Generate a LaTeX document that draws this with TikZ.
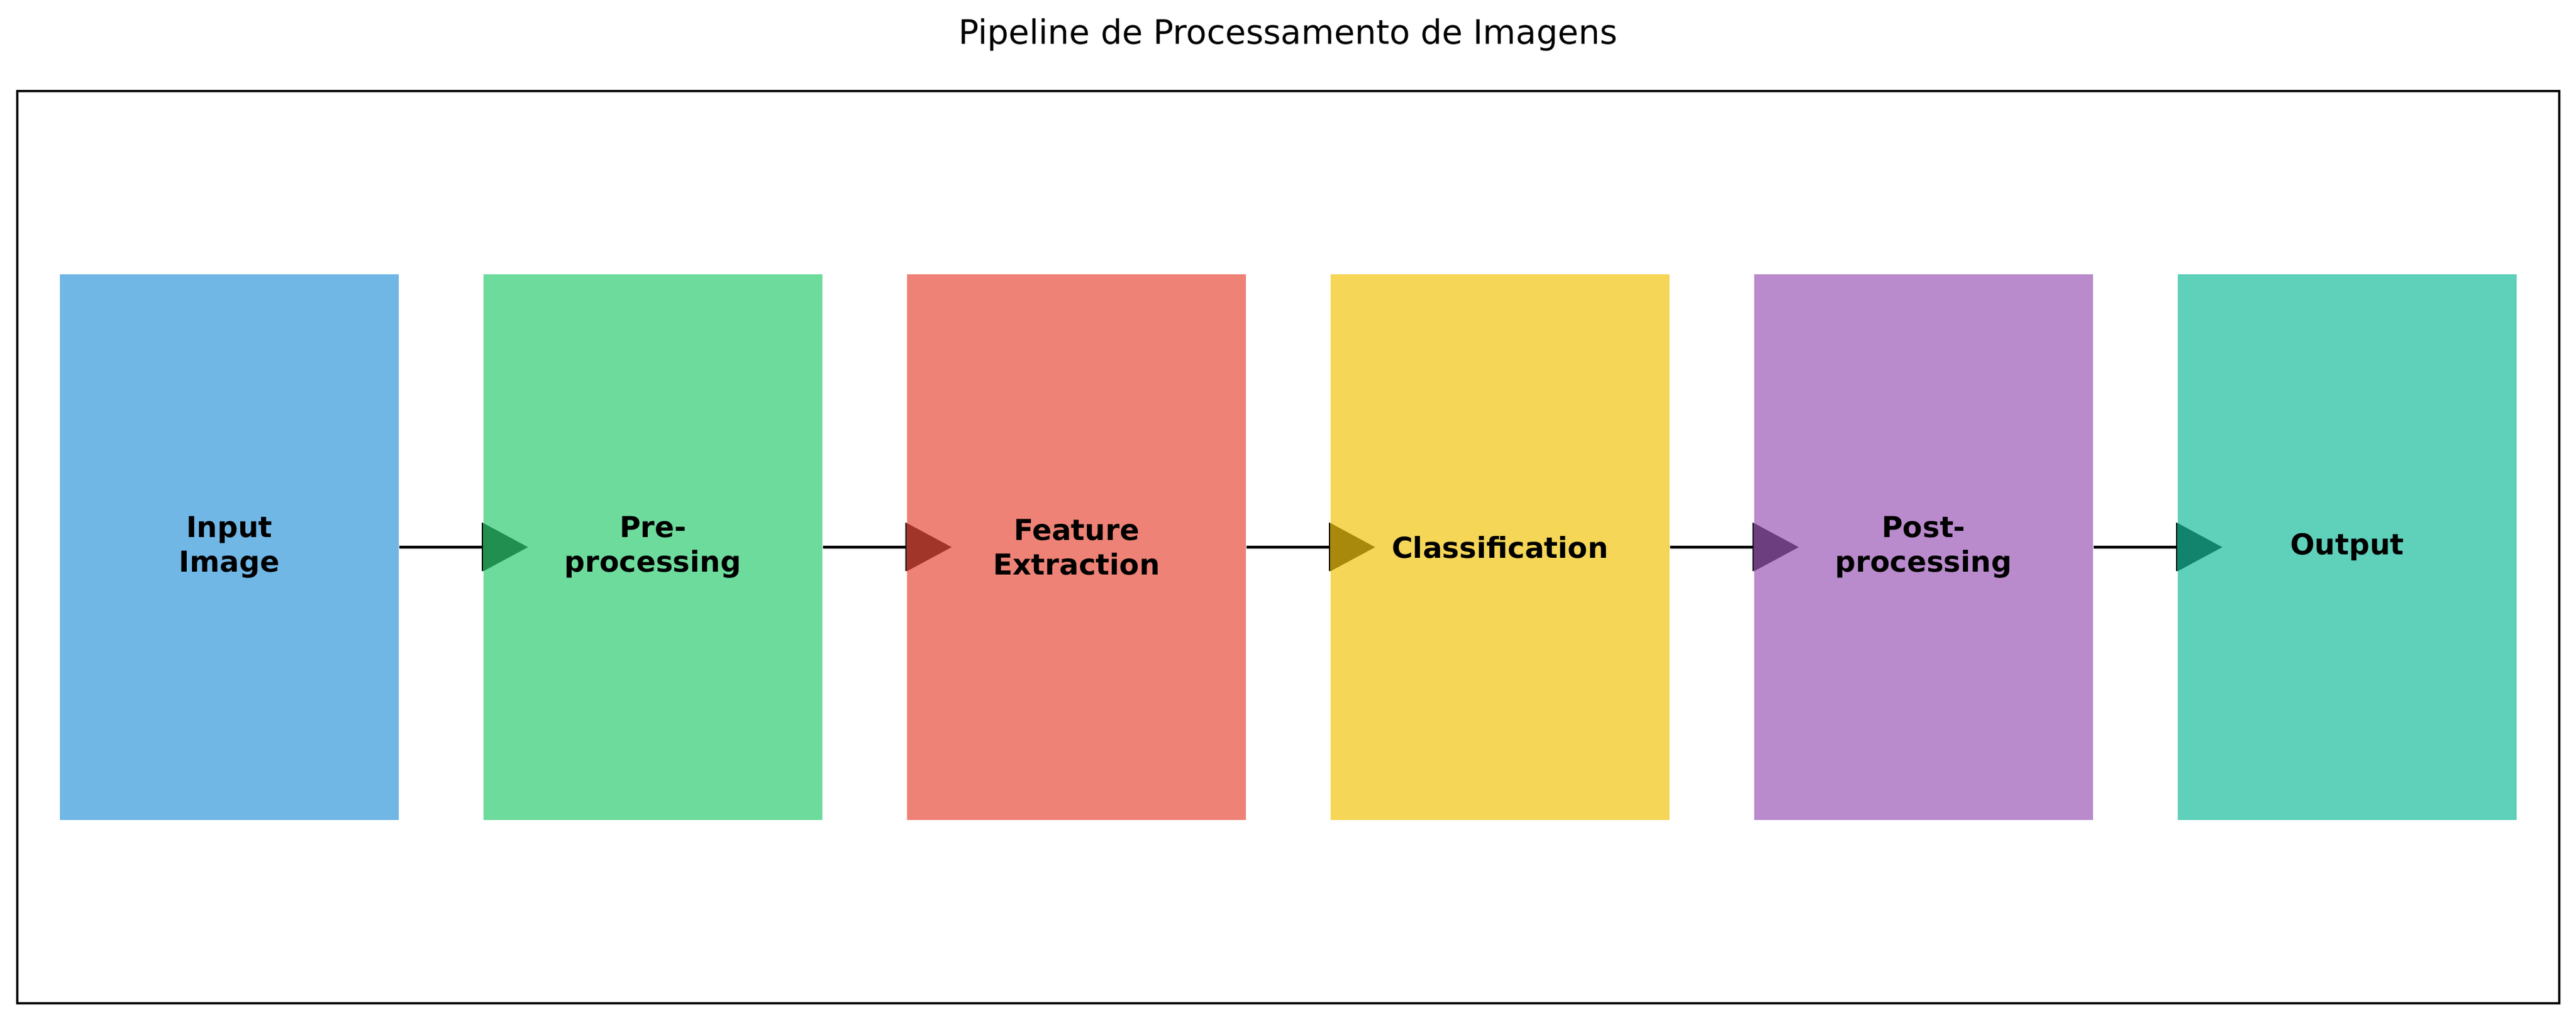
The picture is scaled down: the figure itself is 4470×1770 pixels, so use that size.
\documentclass[tikz,border=0pt]{standalone}
\usepackage{fontspec}
\setmainfont{DejaVu Sans}
\usetikzlibrary{calc}
\definecolor{cblue}{RGB}{113,183,230}
\definecolor{cgreen}{RGB}{109,219,156}
\definecolor{cred}{RGB}{238,130,118}
\definecolor{cyellow}{RGB}{245,214,87}
\definecolor{cpurple}{RGB}{185,139,204}
\definecolor{cteal}{RGB}{95,208,186}
\definecolor{dgreen}{RGB}{32,143,79}
\definecolor{dred}{RGB}{162,53,42}
\definecolor{dyellow}{RGB}{169,137,11}
\definecolor{dpurple}{RGB}{109,62,127}
\definecolor{dteal}{RGB}{18,132,109}
\tikzset{
  stagebox/.style={draw=none, inner sep=0pt, minimum width=141.12pt, minimum height=227.28pt,
    align=center, font=\bfseries\fontsize{12}{14.4}\selectfont, text=black},
  flowline/.style={line width=1.2pt, black},
  headbar/.style={line width=0.5pt, black},
}
\newcommand{\headtri}[2]{%
  \fill[#2] ($(#1.west)+(0,-42)$) -- ($(#1.west)+(78,0)$) -- ($(#1.west)+(0,42)$) -- cycle;
  \draw[headbar] ($(#1.west)+(-1,-42)$) -- ($(#1.west)+(-1,42)$);
}
\begin{document}
\begin{tikzpicture}[x=0.24pt, y=-0.24pt]
\useasboundingbox (0,0) rectangle (4470,1770);
\fill[white] (0,0) rectangle (4470,1770);
\node[anchor=base, font=\fontsize{14}{16.8}\selectfont] (title) at (2235,77) {Pipeline de Processamento de Imagens};
\draw[line width=0.8pt] (30,158) rectangle (4441,1741);
\coordinate (frame) at (2235,949.5);
\node[stagebox, fill=cblue]   (b1) at (398,949.5)  {Input\\Image};
\node[stagebox, fill=cgreen]  (b2) at (1133,949.5) {Pre-\\processing};
\node[stagebox, fill=cred]    (b3) at (1868,949.5) {Feature\\Extraction};
\node[stagebox, fill=cyellow] (b4) at (2603,949.5) {Classification};
\node[stagebox, fill=cpurple] (b5) at (3338,949.5) {Post-\\processing};
\node[stagebox, fill=cteal]   (b6) at (4073,949.5) {Output};
\draw[flowline] (b1.east) -- ($(b2.west)+(-1,0)$);
\draw[flowline] (b2.east) -- ($(b3.west)+(-1,0)$);
\draw[flowline] (b3.east) -- ($(b4.west)+(-1,0)$);
\draw[flowline] (b4.east) -- ($(b5.west)+(-1,0)$);
\draw[flowline] (b5.east) -- ($(b6.west)+(-1,0)$);
\headtri{b2}{dgreen}
\headtri{b3}{dred}
\headtri{b4}{dyellow}
\headtri{b5}{dpurple}
\headtri{b6}{dteal}
\end{tikzpicture}
\end{document}
